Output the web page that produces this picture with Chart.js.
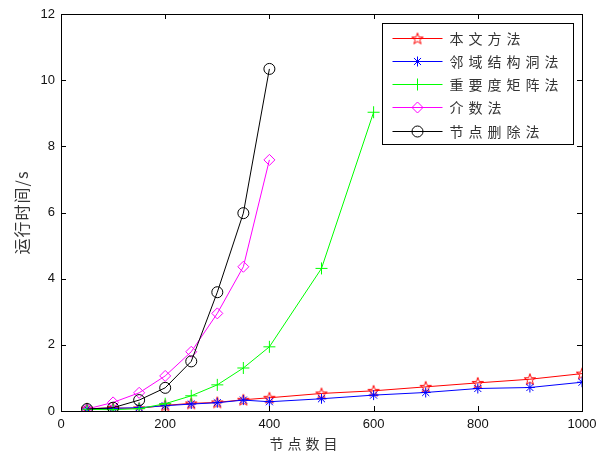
<!DOCTYPE html>
<html>
<head>
<meta charset="utf-8">
<script src="https://cdn.jsdelivr.net/npm/chart.js@4.4.1/dist/chart.umd.min.js"></script>
<style>
  html, body { margin: 0; padding: 0; background: #fff; }
  canvas { display: block; }
</style>
</head>
<body>
<canvas id="chart" width="598" height="455"></canvas>
<script>
// ─── Data ───
const seriesNames = ['本文方法', '邻域结构洞法', '重要度矩阵法', '介数法', '节点删除法'];

const nodesLong  = [50, 100, 150, 200, 250, 300, 350, 400, 500, 600, 700, 800, 900, 1000];
const nodesMid   = [50, 100, 150, 200, 250, 300, 350, 400, 500, 600];
const nodesShort = [50, 100, 150, 200, 250, 300, 350, 400];

const timeOurs       = [0.07, 0.09, 0.08, 0.17, 0.23, 0.26, 0.34, 0.40, 0.53, 0.61, 0.73, 0.85, 0.96, 1.13];
const timeNeighbour  = [0.06, 0.08, 0.10, 0.16, 0.21, 0.25, 0.33, 0.28, 0.37, 0.48, 0.56, 0.68, 0.71, 0.87];
const timeImportance = [0.05, 0.04, 0.07, 0.22, 0.46, 0.79, 1.30, 1.94, 4.31, 9.03];
const timeBetween    = [0.06, 0.26, 0.55, 1.06, 1.79, 2.95, 4.36, 7.59];
const timeDeletion   = [0.06, 0.10, 0.33, 0.70, 1.50, 3.59, 5.98, 10.34];

const xTicks = [0, 200, 400, 600, 800, 1000];
const yTicks = [0, 2, 4, 6, 8, 10, 12];

const xTitle = '节点数目';
const yTitle = '运行时间/s';

// ─── Pentagram marker (MATLAB 'p') ───
function makePentagram(color) {
    const c = document.createElement('canvas');
    c.width = 14; c.height = 14;
    const g = c.getContext('2d');
    const R = 6, r = 2.4;
    g.beginPath();
    for (let i = 0; i < 10; i++) {
        const ang = -Math.PI / 2 + i * Math.PI / 5;
        const rad = i % 2 === 0 ? R : r;
        const px = 7 + rad * Math.cos(ang), py = 7.5 + rad * Math.sin(ang);
        i === 0 ? g.moveTo(px, py) : g.lineTo(px, py);
    }
    g.closePath();
    g.strokeStyle = color;
    g.lineWidth = 1;
    g.stroke();
    return c;
}

const toPts = (xs, ys) => xs.map((x, i) => ({ x, y: ys[i] }));

const styles = [
    { color: '#ff0000', pointStyle: makePentagram('#ff0000'), radius: 5 },
    { color: '#0000ff', pointStyle: 'star', radius: 5 },
    { color: '#00ff00', pointStyle: 'cross', radius: 6 },
    { color: '#ff00ff', pointStyle: 'rectRot', radius: 5.5 },
    { color: '#000000', pointStyle: 'circle', radius: 5.5 },
];
const seriesData = [
    toPts(nodesLong, timeOurs),
    toPts(nodesLong, timeNeighbour),
    toPts(nodesMid, timeImportance),
    toPts(nodesShort, timeBetween),
    toPts(nodesShort, timeDeletion),
];

const datasets = seriesNames.map((name, i) => ({
    label: name,
    data: seriesData[i],
    borderColor: styles[i].color,
    backgroundColor: 'rgba(0,0,0,0)',
    pointBorderColor: styles[i].color,
    pointBackgroundColor: 'rgba(0,0,0,0)',
    pointStyle: styles[i].pointStyle,
    pointRadius: styles[i].radius,
    pointBorderWidth: 1,
    borderWidth: 1,
    tension: 0,
    order: seriesNames.length - i,
}));

// ─── Frame, inner ticks, axis titles ───
const framePlugin = {
    id: 'frame',
    afterDraw(chart) {
        const { ctx, chartArea: a, scales: { x, y } } = chart;
        ctx.save();
        ctx.strokeStyle = '#000';
        ctx.lineWidth = 1;
        ctx.beginPath();
        ctx.rect(Math.round(a.left) + 0.5, Math.round(a.top) + 0.5,
                 Math.round(a.right - a.left), Math.round(a.bottom - a.top));
        ctx.stroke();
        const tl = 5;
        ctx.beginPath();
        xTicks.forEach(v => {
            const px = Math.round(x.getPixelForValue(v)) + 0.5;
            ctx.moveTo(px, a.bottom); ctx.lineTo(px, a.bottom - tl);
            ctx.moveTo(px, a.top); ctx.lineTo(px, a.top + tl);
        });
        yTicks.forEach(v => {
            const py = Math.round(y.getPixelForValue(v)) + 0.5;
            ctx.moveTo(a.left, py); ctx.lineTo(a.left + tl, py);
            ctx.moveTo(a.right, py); ctx.lineTo(a.right - tl, py);
        });
        ctx.stroke();

        // axis titles
        ctx.fillStyle = '#333';
        ctx.textAlign = 'center';
        ctx.textBaseline = 'middle';
        ctx.font = "14px 'Noto Sans CJK SC'";
        ctx.letterSpacing = '4px';
        ctx.fillText(xTitle, (a.left + a.right) / 2 - 16, 444);
        ctx.translate(22, (a.top + a.bottom) / 2);
        ctx.rotate(-Math.PI / 2);
        ctx.font = "16px 'Noto Sans CJK SC'";
        ctx.letterSpacing = '1px';
        ctx.fillText(yTitle, 0, 0);
        ctx.restore();
    }
};

// ─── MATLAB-style legend box ───
const legendPlugin = {
    id: 'matLegend',
    afterDatasetsDraw(chart) {
        const { ctx } = chart;
        const bx = 382.5, by = 23.5, bw = 191, bh = 121;
        ctx.save();
        ctx.fillStyle = '#fff';
        ctx.fillRect(bx, by, bw, bh);
        ctx.strokeStyle = '#000';
        ctx.lineWidth = 1;
        ctx.strokeRect(bx, by, bw, bh);
        ctx.font = "14px 'Noto Sans CJK SC'";
        ctx.letterSpacing = '5px';
        ctx.textBaseline = 'middle';
        chart.data.datasets.forEach((ds, i) => {
            const ry = Math.round(by + 14 + i * 23.3) + 0.5;
            ctx.strokeStyle = ds.borderColor;
            ctx.beginPath();
            ctx.moveTo(bx + 10, ry); ctx.lineTo(bx + 60, ry);
            ctx.stroke();
            ctx.fillStyle = 'rgba(0,0,0,0)';
            Chart.helpers.drawPoint(ctx, {
                pointStyle: ds.pointStyle, radius: ds.pointRadius,
                borderWidth: 1, rotation: 0
            }, bx + 35, ry);
            ctx.fillStyle = '#333';
            ctx.fillText(ds.label, bx + 67, ry);
        });
        ctx.restore();
    }
};

const tickFont = { family: "'Liberation Sans', Arial, sans-serif", size: 13 };

new Chart(document.getElementById('chart'), {
    type: 'line',
    data: { datasets },
    options: {
        responsive: false,
        animation: false,
        layout: { padding: { left: 0, right: 16, top: 14, bottom: 0 } },
        plugins: { legend: { display: false }, tooltip: { enabled: false } },
        scales: {
            x: {
                type: 'linear', min: 0, max: 1000,
                afterBuildTicks: s => { s.ticks = xTicks.map(v => ({ value: v })); },
                afterFit: s => { s.height = 44; s.paddingLeft = 0; s.paddingRight = 0; },
                grid: { display: false, drawTicks: false },
                border: { display: true, color: '#000', width: 1 },
                ticks: { color: '#111', font: tickFont, padding: 6, maxRotation: 0,
                         callback: v => String(v) },
            },
            y: {
                type: 'linear', min: 0, max: 12,
                afterBuildTicks: s => { s.ticks = yTicks.map(v => ({ value: v })); },
                afterFit: s => { s.width = 61; s.paddingTop = 0; s.paddingBottom = 0; },
                grid: { display: false, drawTicks: false },
                border: { display: true, color: '#000', width: 1 },
                ticks: { color: '#111', font: tickFont, padding: 6,
                         callback: v => String(v) },
            },
        },
    },
    plugins: [framePlugin, legendPlugin],
});
</script>
</body>
</html>
